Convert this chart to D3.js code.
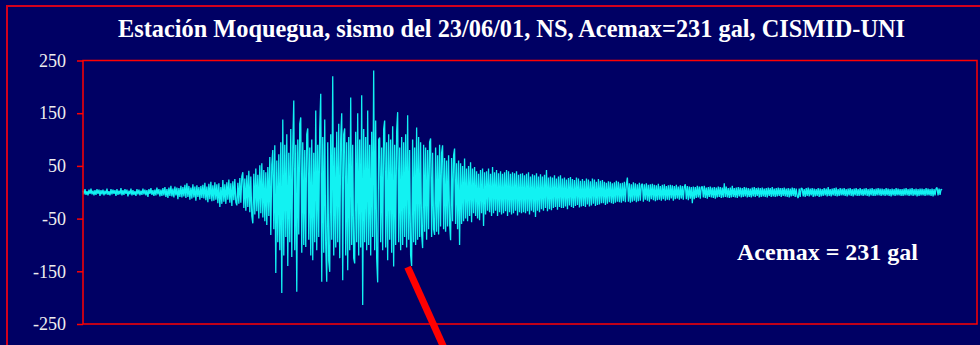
<!DOCTYPE html>
<html>
<head>
<meta charset="utf-8">
<script src="https://cdn.jsdelivr.net/npm/d3@7"></script>
<style>
  html, body { margin: 0; padding: 0; background: #000064; }
  svg { display: block; }
</style>
</head>
<body>
<svg id="chart" width="980" height="345"></svg>
<script>
// Acelerograma NS, estación Moquegua (gal), muestras equiespaciadas
const dt = 0.2;           // s entre muestras
const timeDomain = [0, 179];
const yTicks = [250, 150, 50, -50, -150, -250];
const yDomain = [-250, 250];
const titleText = "Estación Moquegua, sismo del 23/06/01, NS, Acemax=231 gal, CISMID-UNI";
const acc = [
  3,-4,6,-5,2,-6,5,-3,7,-4,3,-6,4,-5,6,-3,5,-7,4,-4,
  5,-6,3,-4,7,-5,2,-6,6,-4,5,-3,4,-7,6,-5,3,-4,8,-6,
  4,-5,6,-3,5,-8,3,-4,7,-6,4,-5,2,-7,6,-4,5,-6,3,-5,
  7,-4,5,-6,4,-9,6,-3,8,-5,4,-7,5,-6,9,-4,6,-8,5,-7,
  8,-6,10,-9,6,-11,9,-7,12,-8,7,-10,11,-6,9,-13,8,-9,12,-10,
  10,-8,14,-11,17,-9,12,-14,9,-12,15,-10,11,-16,13,-9,10,-14,12,-11,
  14,-12,18,-15,11,-19,16,-13,20,-17,13,-16,19,-14,15,-21,17,-28,10,-22,
  23,-18,15,-22,19,-14,24,-20,17,-26,21,-15,25,-19,-25,18,-22,27,-20,30,
  38,-30,26,-35,32,-28,41,-38,30,-45,-59,35,-42,45,-36,33,-50,51,-40,55,
  -48,42,-55,38,-62,48,-45,67,-81,52,80,-70,89,-153,60,-95,72,-110,95,-191,
  138,-120,90,-85,110,-140,75,-95,120,-123,85,174,-110,90,-189,100,-80,130,142,-115,
  95,-100,80,-104,110,121,-90,85,-120,100,-129,75,-95,155,-110,90,-85,120,187,-170,
  105,-115,138,-100,-170,95,-130,-151,110,-90,220,-120,85,-105,115,-95,130,-125,100,150,
  -167,110,121,-120,95,-148,105,-110,180,-100,90,-125,-135,115,-95,150,-120,100,-105,184,
  -214,120,-95,105,-110,155,-100,90,-120,115,-85,231,-110,136,-125,-171,100,104,-95,85,
  -110,120,136,-105,95,-129,110,-90,100,-115,125,-141,90,-100,115,152,-95,85,-110,105,
  -100,95,-85,110,-105,146,-90,80,-120,-140,100,-95,85,-100,123,-90,105,-85,95,-80,
  -106,90,-75,85,-90,80,-70,95,102,-85,75,-70,-81,85,-75,70,-80,90,-65,75,
  89,-70,65,-75,60,-65,70,-60,-91,65,-55,70,83,-60,55,-70,60,-100,55,-60,
  50,-55,64,-50,45,-55,50,-45,57,-57,45,-40,48,-45,40,-50,35,-53,42,-40,
  45,-64,38,-42,40,-35,45,-38,35,-45,48,-40,38,-35,42,-45,36,-38,40,-42,
  35,-40,38,-36,42,-45,40,-38,35,-42,38,-40,36,-35,40,-44,33,-38,35,-40,
  36,-38,32,-40,35,-36,38,-42,30,-35,34,-38,32,-47,36,-35,30,-38,34,-32,
  30,-35,33,-30,42,-36,28,-32,30,-34,28,-30,32,-28,26,-33,30,-28,32,-30,
  26,-30,28,-27,24,-32,27,-25,29,-28,25,-30,23,-26,28,-24,26,-29,22,-27,
  25,-26,22,-28,26,-23,24,-27,21,-25,26,-22,24,-26,20,-24,25,-23,22,-21,
  23,-21,20,-24,18,-22,21,-19,20,-21,17,-22,19,-20,22,-18,20,-19,17,-20,
  18,-17,20,-19,16,28,-18,17,-20,15,-18,19,-16,17,-19,15,-17,18,-16,14,
  16,-18,15,-14,17,-16,14,-18,15,-13,16,-15,14,-17,13,-15,16,-14,12,-16,
  14,-13,15,-16,12,-14,13,-15,14,-12,13,-16,12,-13,14,-12,11,-14,13,-12,
  12,-14,11,15,-13,12,-15,11,-12,10,-21,11,-13,10,-11,12,-10,11,-12,10,
  11,-10,12,-11,9,-12,10,-9,11,-10,9,-11,10,-12,9,-10,11,-9,10,-11,
  9,-10,17,-9,11,-10,8,-11,9,-10,12,-9,8,-10,9,-11,10,-8,9,-10,
  8,-9,10,-8,9,-10,8,-9,7,-10,9,-8,10,-9,8,-7,9,-10,8,-9,
  9,-8,7,-9,8,-10,9,-7,8,-9,10,-8,7,-9,8,-8,9,-7,8,-9,
  8,-7,9,-8,7,-9,8,-10,7,-8,9,-7,8,-9,7,-8,-11,7,-9,8,
  7,-8,6,-9,8,-7,9,-8,7,-6,8,-9,7,-8,6,-7,8,-9,7,-8,
  6,-7,8,-6,7,-8,10,-7,6,-8,7,-6,8,-7,9,-8,6,-7,8,-6,
  7,-6,8,-7,6,-8,7,-6,8,-7,6,-8,7,-6,8,-7,6,-7,8,-6,
  6,-7,7,-6,8,-7,6,-8,7,-6,8,-7,6,-7,7,-6,8,-6,7,-7,
  7,-6,6,-7,8,-6,7,-7,6,-8,7,-6,6,-7,8,-6,7,-6,6,-7,
  6,-7,7,-6,8,-6,6,-7,7,-6,8,-7,6,-6,7,-8,6,-7,7,-6,
  7,-6,6,-7,8,-6,7,-6,6,-7,7,-8,6,-6,7,9,-6,7,-5,6,
  4
];

const svg = d3.select("#chart");
const W = 980, H = 345;
const plot = { left: 83, right: 977, top: 60.5, bottom: 324 };
const serif = "'Liberation Serif', 'Times New Roman', serif";

// Marco exterior
svg.append("rect")
  .attr("x", 7).attr("y", 6)
  .attr("width", W + 10).attr("height", H + 10)
  .attr("fill", "none").attr("stroke", "#d4001e").attr("stroke-width", 2);

const x = d3.scaleLinear().domain(timeDomain).range([plot.left, plot.right]);
const y = d3.scaleLinear().domain(yDomain).range([plot.bottom, plot.top]);

// Título (tipografía condensada)
svg.append("text")
  .attr("x", 118).attr("y", 37)
  .attr("font-family", serif)
  .attr("font-weight", "bold")
  .attr("font-size", 25)
  .attr("textLength", 787)
  .attr("lengthAdjust", "spacingAndGlyphs")
  .attr("fill", "#ffffff")
  .text(titleText);

// Eje vertical
const yAxis = d3.axisLeft(y).tickValues(yTicks).tickSize(6).tickPadding(11)
  .tickFormat(d => String(d));
const gy = svg.append("g").attr("transform", `translate(${plot.left},0)`).call(yAxis);
gy.select(".domain").remove();
gy.selectAll(".tick line").attr("stroke", "#ff0000").attr("stroke-width", 1.5);
gy.selectAll(".tick text")
  .attr("fill", "#eeeeee")
  .attr("font-family", serif)
  .attr("font-size", 18)
  .attr("dy", "0.32em");

// Registro
const line = d3.line()
  .x((d, i) => x(i * dt))
  .y(d => y(d));
svg.append("path")
  .datum(acc)
  .attr("d", line)
  .attr("fill", "none")
  .attr("stroke", "#12f2f2")
  .attr("stroke-width", 1.3)
  .attr("stroke-linejoin", "bevel");

// Recuadro del área de trazado
svg.append("rect")
  .attr("x", plot.left).attr("y", plot.top)
  .attr("width", plot.right - plot.left).attr("height", plot.bottom - plot.top)
  .attr("fill", "none").attr("stroke", "#ff0000").attr("stroke-width", 1.5);

// Aceleración máxima absoluta
const peak = d3.max(acc, v => Math.abs(v));
svg.append("text")
  .attr("x", 737).attr("y", 260)
  .attr("font-family", serif)
  .attr("font-weight", "bold")
  .attr("font-size", 24)
  .attr("fill", "#ffffff")
  .text(`Acemax = ${peak} gal`);

// Flecha indicadora
const tArrow = 325 * dt, aArrow = -142;
const ax0 = x(tArrow), ay0 = y(aArrow);
svg.append("line")
  .attr("x1", ax0).attr("y1", ay0)
  .attr("x2", ax0 + 0.45 * (H + 20 - ay0)).attr("y2", H + 20)
  .attr("stroke", "#ff0000").attr("stroke-width", 7);
</script>
</body>
</html>
